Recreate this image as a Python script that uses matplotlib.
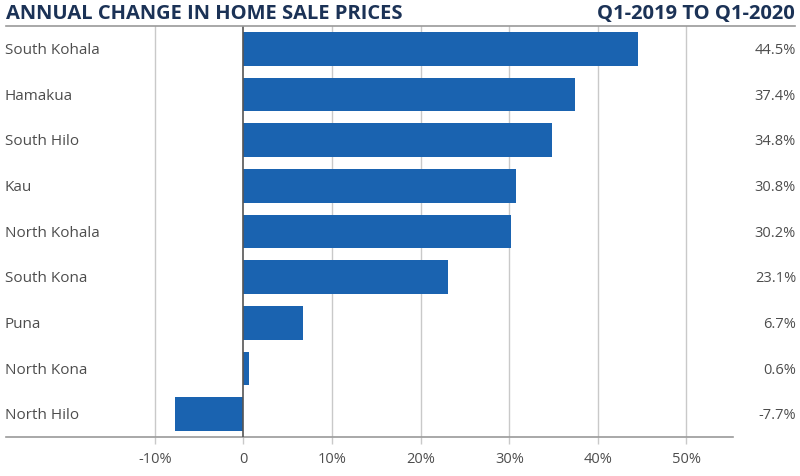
import matplotlib.pyplot as plt
import numpy as np

# data
regions = ['South Kohala', 'Hamakua', 'South Hilo', 'Kau', 'North Kohala',
           'South Kona', 'Puna', 'North Kona', 'North Hilo']
change = [44.5, 37.4, 34.8, 30.8, 30.2, 23.1, 6.7, 0.6, -7.7]
tick_vals = [-10, 0, 10, 20, 30, 40, 50]
tick_labels = ['-10%', '0', '10%', '20%', '30%', '40%', '50%']

bar_color = '#1a63b0'
navy = '#1b3256'
text_gray = '#4d4d4d'

plt.rcParams['font.family'] = ['Open Sans', 'DejaVu Sans']

fig = plt.figure(figsize=(8, 4.76), dpi=100)
W, H = 800, 476
# axes box in pixels: left 6, right 733, top 26, bottom 437
ax = fig.add_axes([6 / W, 1 - 437 / H, (733 - 6) / W, (437 - 26) / H])

y = np.arange(len(regions))
ax.barh(y, change, height=0.74, color=bar_color, zorder=3)
ax.set_ylim(len(regions) - 0.5, -0.5)
ax.set_xlim(-26.8, 55.25)

for v in tick_vals:
    if v == 0:
        ax.axvline(v, color='#555555', lw=1.2, zorder=4)
    else:
        ax.axvline(v, color='#c9c9c9', lw=1, zorder=1)

ax.set_xticks(tick_vals)
ax.set_xticklabels(tick_labels, fontsize=10.5, color=text_gray)
ax.tick_params(axis='x', length=5, width=1, color='#c9c9c9', pad=6)
ax.set_yticks([])

for s in ['left', 'right', 'top']:
    ax.spines[s].set_visible(False)
ax.spines['bottom'].set_color('#9a9a9a')
ax.spines['bottom'].set_linewidth(1.2)

# region names at left, values at right
for i, (name, val) in enumerate(zip(regions, change)):
    yc = 1 - (27.5 + 45.67 * (i + 0.5)) / H
    ax.text(5 / W, yc, name, transform=fig.transFigure,
            ha='left', va='center', fontsize=11, color=text_gray)
    ax.text(796 / W, yc, f'{val}%', transform=fig.transFigure,
            ha='right', va='center', fontsize=10.5, color=text_gray)

# title row with underline
fig.text(6 / W, 1 - 14 / H, 'ANNUAL CHANGE IN HOME SALE PRICES', ha='left', va='center',
         fontsize=14.5, fontweight='bold', color=navy)
fig.text(795 / W, 1 - 14 / H, 'Q1-2019 TO Q1-2020', ha='right', va='center',
         fontsize=14.5, fontweight='bold', color=navy)
fig.add_artist(plt.Line2D([6 / W, 795 / W], [1 - 26 / H, 1 - 26 / H],
                          transform=fig.transFigure, color='#9a9a9a', lw=1.2))

plt.savefig('out.png', dpi=100)
